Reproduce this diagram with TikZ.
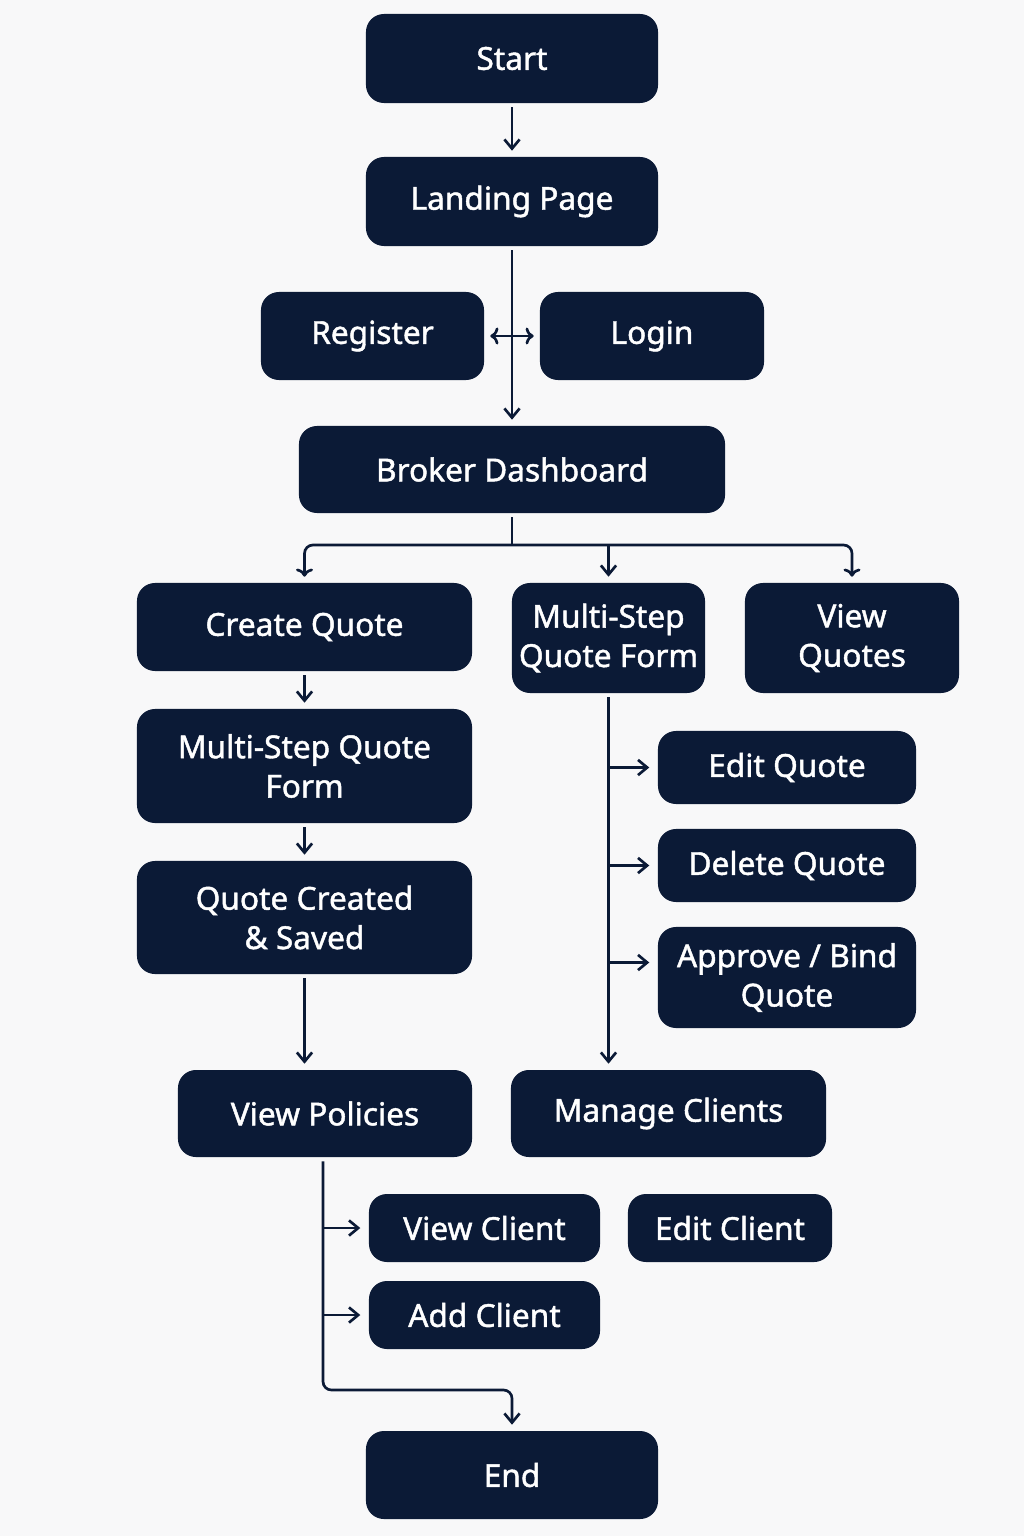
\documentclass[tikz,border=0pt]{standalone}
\usepackage{fontspec}
\setmainfont{Noto Sans}[FakeBold=1.4]
\usetikzlibrary{arrows.meta,calc}
\definecolor{navy}{HTML}{0B1A36}
\definecolor{paper}{HTML}{F8F8F9}

\begin{document}
\begin{tikzpicture}[x=0.025cm,y=-0.025cm,
 stepbox/.style={rounded corners=0.45cm,fill=navy,text=white,align=center,inner sep=2pt,font=\fontsize{22.5}{28}\selectfont},
 flow/.style={draw=navy,line width=1.9pt,-{Straight Barb[length=2.3mm,width=3.8mm]},shorten >=1.5mm,shorten <=1mm},
 branch/.style={flow,shorten >=2.1mm,shorten <=0pt}]
\fill[paper] (0,0) rectangle (1024,1536);
\useasboundingbox (0,0) rectangle (1024,1536);

\node[stepbox,minimum width=7.3cm,minimum height=2.225cm] (start) at (512,58.5) {Start};
\node[stepbox,minimum width=7.3cm,minimum height=2.225cm] (landing) at (512,201.5) {Landing Page};
\node[stepbox,minimum width=5.575cm,minimum height=2.2cm] (register) at (372.5,336) {Register};
\node[stepbox,minimum width=5.6cm,minimum height=2.2cm] (login) at (652,336) {Login};
\node[stepbox,minimum width=10.65cm,minimum height=2.175cm] (dash) at (512,469.5) {Broker Dashboard};
\node[stepbox,minimum width=8.375cm,minimum height=2.2cm] (create) at (304.5,627) {Create Quote};
\node[stepbox,minimum width=4.825cm,minimum height=2.75cm] (formmid) at (608.5,638) {Multi-Step\\Quote Form};
\node[stepbox,minimum width=5.35cm,minimum height=2.75cm] (viewq) at (852,638) {View\\Quotes};
\node[stepbox,minimum width=8.375cm,minimum height=2.85cm] (formleft) at (304.5,766) {Multi-Step Quote\\Form};
\node[stepbox,minimum width=8.375cm,minimum height=2.825cm] (saved) at (304.5,917.5) {Quote Created\\\& Saved};
\node[stepbox,minimum width=6.45cm,minimum height=1.825cm] (editq) at (787,767.5) {Edit Quote};
\node[stepbox,minimum width=6.45cm,minimum height=1.825cm] (deleteq) at (787,865.5) {Delete Quote};
\node[stepbox,minimum width=6.45cm,minimum height=2.525cm] (approve) at (787,977.5) {Approve / Bind\\Quote};
\node[stepbox,minimum width=7.35cm,minimum height=2.175cm] (policies) at (325,1113.5) {View Policies};
\node[stepbox,minimum width=7.875cm,minimum height=2.175cm] (clients) at (668.5,1113.5) {Manage Clients};
\node[stepbox,minimum width=5.775cm,minimum height=1.7cm] (viewc) at (484.5,1228) {View Client};
\node[stepbox,minimum width=5.1cm,minimum height=1.7cm] (editc) at (730,1228) {Edit Client};
\node[stepbox,minimum width=5.775cm,minimum height=1.7cm] (addc) at (484.5,1315) {Add Client};
\node[stepbox,minimum width=7.3cm,minimum height=2.2cm] (end) at (512,1475) {End};

\coordinate (fan) at (512,545);
\coordinate (drop) at (512,1390);

\draw[flow] (start) -- (landing);
\draw[flow] (landing) -- (dash);
\draw[flow,<->,shorten <=1.5mm] (register) -- (login);
\draw[draw=navy,line width=1.9pt,shorten <=1mm] (dash) -- (fan);
\draw[flow,<->,rounded corners=6pt,shorten <=1.5mm] (create.north) |- (fan) -| (viewq.north);
\draw[flow,shorten <=0pt] (formmid.north |- fan) -- (formmid.north);
\draw[flow] (create) -- (formleft);
\draw[flow] (formleft) -- (saved);
\draw[flow] (saved.south) -- (saved.south |- policies.north);
\draw[flow] (formmid.south) -- (formmid.south |- clients.north);
\draw[branch] (formmid.south |- editq.west) -- (editq.west);
\draw[branch] (formmid.south |- deleteq.west) -- (deleteq.west);
\draw[branch] ($(formmid.south |- approve.west)+(0,-15)$) -- ($(approve.west)+(0,-15)$);
\draw[flow,rounded corners=6pt] ([xshift=-0.05cm]policies.south) |- (drop) -- (end.north);
\draw[branch] ([xshift=-0.05cm]policies.south |- viewc.west) -- (viewc.west);
\draw[branch] ([xshift=-0.05cm]policies.south |- addc.west) -- (addc.west);
\end{tikzpicture}
\end{document}
